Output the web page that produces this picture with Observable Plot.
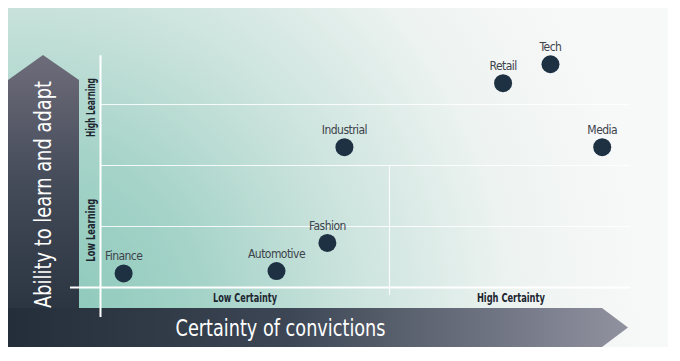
<!DOCTYPE html>
<html><head><meta charset="utf-8">
<script src="https://cdn.jsdelivr.net/npm/d3@7"></script>
<script src="https://cdn.jsdelivr.net/npm/@observablehq/plot@0.6"></script>
<style>
html,body{margin:0;padding:0;background:#fff;}
#chart svg{display:block;}
</style>
</head><body><div id="chart"></div>
<script>
// ---- data ----
const industries = ["Finance", "Automotive", "Fashion", "Industrial", "Retail", "Tech", "Media"];
const certainty  = [0.080, 0.609, 0.785, 0.844, 1.393, 1.557, 1.736];
const learning   = [0.23, 0.27, 0.73, 2.30, 3.35, 3.66, 2.30];

const gridLevels = [1, 2, 3];
const certaintyLabels = ["Low Certainty", "High Certainty"];
const certaintyLabelX = [0.50, 1.42];
const learningLabels = ["Low Learning", "High Learning"];
const learningLabelY = [0.94, 2.95];

const xTitle = "Certainty of convictions";
const yTitle = "Ability to learn and adapt";

// axis extents in data units
const xLineStart = -0.104, xLineEnd = 1.834;
const yLineBottom = -0.49, yLineTop = 3.80;
const midLineBottom = -0.13, midLineTop = 2.0;

const points = industries.map((name, i) => ({name, x: certainty[i], y: learning[i]}));

const condensed = "'Liberation Sans Narrow', 'DejaVu Sans Condensed', 'Roboto', sans-serif";

// decorative background and arrows
function backdrop() {
  const g = d3.create("svg:g");
  const defs = g.append("defs");
  const bg = defs.append("radialGradient").attr("id", "bgGrad")
    .attr("gradientUnits", "userSpaceOnUse")
    .attr("cx", 20).attr("cy", 330).attr("r", 620);
  [[0, "#86c7b7"], [0.3, "#a5d3c8"], [0.55, "#cde4de"], [0.8, "#edf3f1"], [1, "#f7f8f8"]]
    .forEach(([o, c]) => bg.append("stop").attr("offset", o).attr("stop-color", c));
  const va = defs.append("linearGradient").attr("id", "vGrad")
    .attr("gradientUnits", "userSpaceOnUse")
    .attr("x1", 0).attr("y1", 55).attr("x2", 0).attr("y2", 347);
  va.append("stop").attr("offset", 0).attr("stop-color", "#6e6c7a");
  va.append("stop").attr("offset", 0.45).attr("stop-color", "#434a58");
  va.append("stop").attr("offset", 1).attr("stop-color", "#242e3a");
  const ha = defs.append("linearGradient").attr("id", "hGrad")
    .attr("gradientUnits", "userSpaceOnUse")
    .attr("x1", 8).attr("y1", 0).attr("x2", 628).attr("y2", 0);
  ha.append("stop").attr("offset", 0).attr("stop-color", "#242e3a");
  ha.append("stop").attr("offset", 0.45).attr("stop-color", "#3c4654");
  ha.append("stop").attr("offset", 1).attr("stop-color", "#9192a0");

  g.append("rect").attr("x", 8).attr("y", 8).attr("width", 660).attr("height", 339).attr("fill", "url(#bgGrad)");
  g.append("path").attr("d", "M8,347 L8,80 L43,55 L79,80 L79,347 Z").attr("fill", "url(#vGrad)");
  g.append("path").attr("d", "M8,308 L602,308 L628,327.5 L602,347 L8,347 Z").attr("fill", "url(#hGrad)");
  return g.node();
}

function fitLength(len) {
  return (index, scales, values, dimensions, context, next) => {
    const g = next(index, scales, values, dimensions, context);
    d3.select(g).selectAll("text").attr("textLength", (d, i, n) => typeof len === "function" ? len(i) : len)
      .attr("lengthAdjust", "spacingAndGlyphs");
    return g;
  };
}
function tighten(px) {
  return (index, scales, values, dimensions, context, next) => {
    const g = next(index, scales, values, dimensions, context);
    d3.select(g).selectAll("text").attr("letter-spacing", px);
    return g;
  };
}
const certaintyLabelLen = [64, 68];
const learningLabelLen = [63, 59];

const chart = Plot.plot({
  width: 680,
  height: 361,
  marginLeft: 100,
  marginRight: 2,
  marginTop: 43,
  marginBottom: 74,
  x: {domain: [0, 2], axis: null},
  y: {domain: [0, 4], axis: null},
  style: {background: "transparent", fontFamily: condensed},
  marks: [
    backdrop,
    Plot.ruleY(gridLevels, {x1: 0, x2: xLineEnd, stroke: "#ffffff", strokeOpacity: 0.85, strokeWidth: 1.2}),
    Plot.ruleX([1], {y1: midLineBottom, y2: midLineTop, stroke: "#ffffff", strokeOpacity: 0.85, strokeWidth: 1.2}),
    Plot.ruleY([0], {x1: xLineStart, x2: xLineEnd, stroke: "#ffffff", strokeWidth: 2}),
    Plot.ruleX([0], {y1: yLineBottom, y2: yLineTop, stroke: "#ffffff", strokeWidth: 2}),
    Plot.dot(points, {x: "x", y: "y", r: 9, fill: "#1d3143", stroke: "none"}),
    Plot.text(points, {x: "x", y: "y", text: "name", dy: -17, fontSize: 12, fill: "#3d434b", fontFamily: condensed, render: tighten(-0.55)}),
    Plot.text(certaintyLabels, {x: (d, i) => certaintyLabelX[i], y: -0.18, text: d => d, fontSize: 11.5, fontWeight: "bold", fill: "#1c2630", fontFamily: condensed, render: fitLength(i => certaintyLabelLen[i])}),
    Plot.text(learningLabels, {x: -0.031, y: (d, i) => learningLabelY[i], text: d => d, rotate: -90, fontSize: 11.5, fontWeight: "bold", fill: "#1c2630", fontFamily: condensed, render: fitLength(i => learningLabelLen[i])}),
    Plot.text([xTitle], {x: 0.623, y: -0.67, text: d => d, fontSize: 23, fill: "#ffffff", fontFamily: condensed, render: fitLength(210)}),
    Plot.text([yTitle], {x: -0.197, y: 1.525, text: d => d, rotate: -90, fontSize: 23, fill: "#ffffff", fontFamily: condensed, render: fitLength(227)})
  ]
});
document.getElementById("chart").appendChild(chart);
</script>
</body></html>
